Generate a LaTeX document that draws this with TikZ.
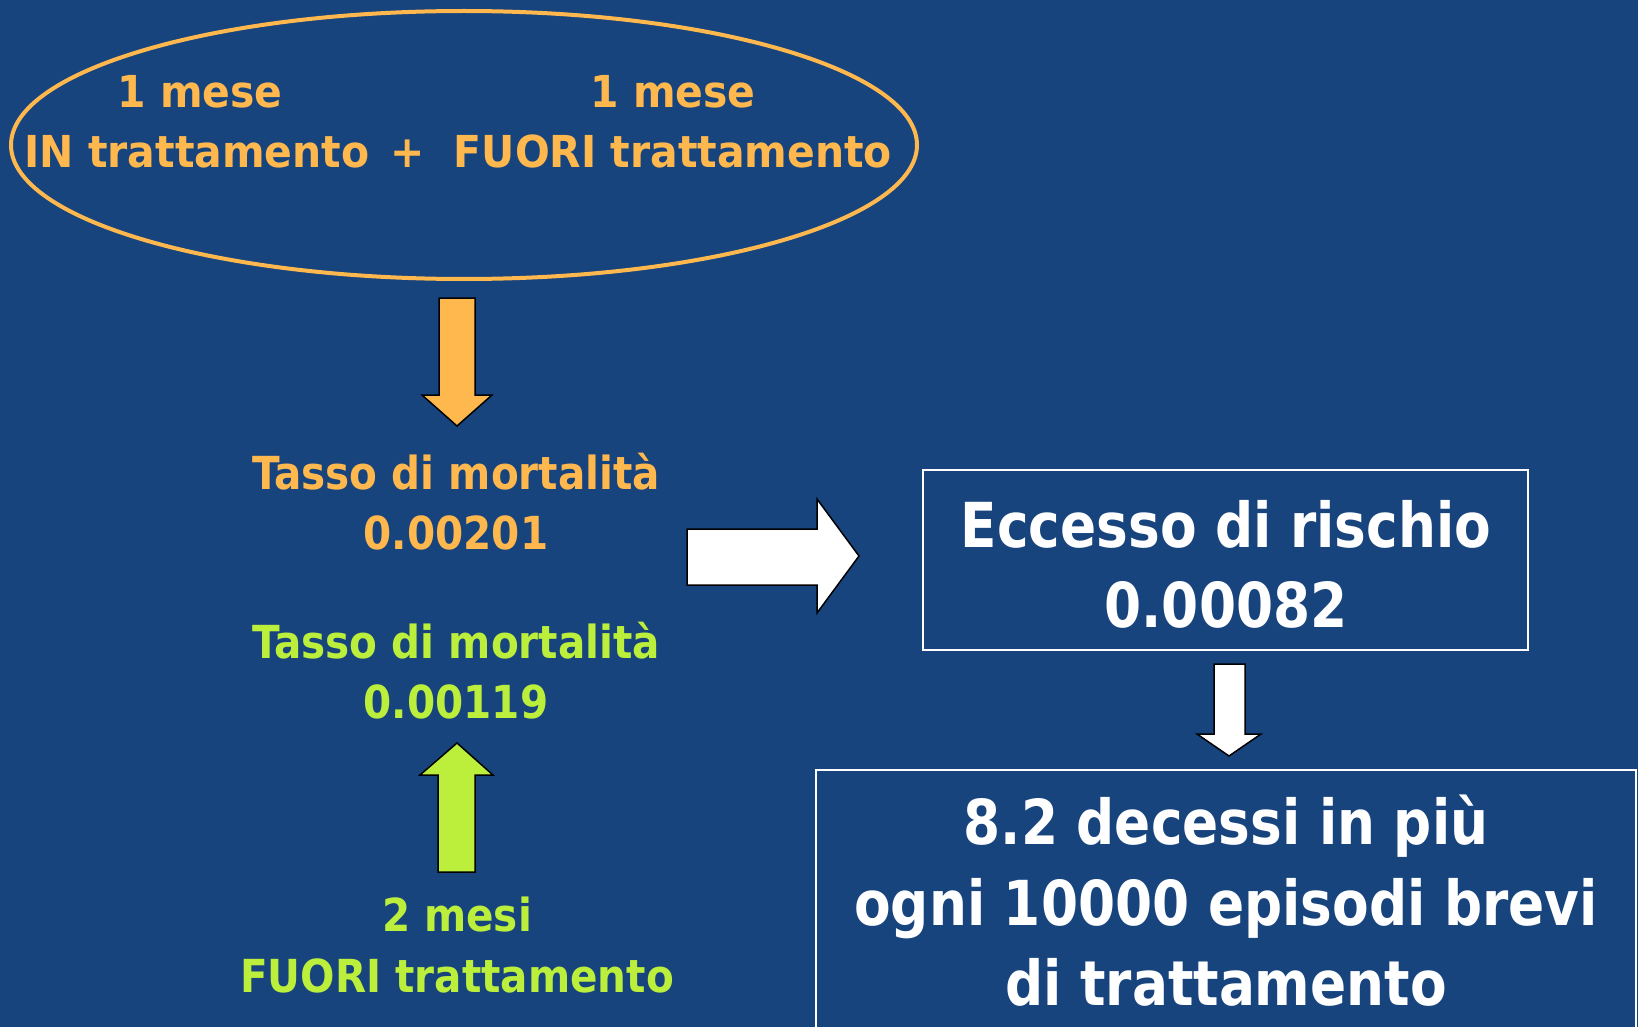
\documentclass[tikz,border=0pt]{standalone}
\usepackage{fontspec}
\setmainfont{DejaVu Sans}
\newfontfamily\widefont{DejaVu Sans Bold}[FakeStretch=0.89]
\newfontfamily\ellfont{DejaVu Sans Bold}[FakeStretch=0.93]
\newfontfamily\boxfont{DejaVu Sans Bold}[FakeStretch=0.86]
\definecolor{bg}{HTML}{18447E}
\definecolor{orng}{HTML}{FFB84D}
\definecolor{lime}{HTML}{BBEF3B}
\tikzset{
  txt/.style={inner sep=0pt, anchor=base},
  elltxt/.style={txt, text=orng, font=\ellfont\fontsize{44}{58}\selectfont},
  oratxt/.style={txt, text=orng, font=\widefont\fontsize{45.5}{53}\selectfont},
  grtxt/.style={txt, text=lime, font=\widefont\fontsize{45.5}{53}\selectfont},
  boxtxt/.style={txt, text=white, font=\boxfont\fontsize{62}{80}\selectfont},
  blockarrow/.style={draw=black, line width=1.5pt, line join=miter},
  framebox/.style={draw=white, line width=1.5pt}
}
\begin{document}
\begin{tikzpicture}[x=1pt,y=-1pt]
\useasboundingbox (0,0) rectangle (1638,1027);
\fill[bg] (0,0) rectangle (1638,1027);
\clip (0,0) rectangle (1638,1027);
% ellipse
\draw[orng, line width=4pt] (464,145) ellipse [x radius=453, y radius=134];
\node[elltxt] (l1) at (200,108) {1 mese};
\node[elltxt] (l2) at (197,168) {IN trattamento};
\node[elltxt] (plus) at (408,168) {+};
\node[elltxt] (r1) at (673,108) {1 mese};
\node[elltxt] (r2) at (673,168) {FUORI trattamento};
% orange down arrow
\draw[blockarrow, fill=orng] (439,298) -- (475,298) -- (475,395) -- (492,395) -- (457,426) -- (422,395) -- (439,395) -- cycle;
% mortality rates
\node[oratxt] (t1) at (456,489) {Tasso di mortalità};
\node[oratxt] (v1) at (456,549) {0.00201};
\node[grtxt] (t2) at (456,658) {Tasso di mortalità};
\node[grtxt] (v2) at (456,718) {0.00119};
% green up arrow
\draw[blockarrow, fill=lime] (438,872) -- (475,872) -- (475,775) -- (493,775) -- (457,743) -- (420,775) -- (438,775) -- cycle;
\node[grtxt] (m1) at (457,931) {2 mesi};
\node[grtxt] (m2) at (457,992) {FUORI trattamento};
% white right arrow
\draw[blockarrow, fill=white] (687,529) -- (817,529) -- (817,499) -- (859,556) -- (817,613) -- (817,585) -- (687,585) -- cycle;
% box 1
\draw[framebox] (923,470) rectangle (1528,650);
\node[boxtxt] (e1) at (1226,547) {Eccesso di rischio};
\node[boxtxt] (e2) at (1226,627) {0.00082};
% white down arrow
\draw[blockarrow, fill=white] (1214,664) -- (1245,664) -- (1245,734) -- (1261,734) -- (1229,756) -- (1197,734) -- (1214,734) -- cycle;
% box 2
\draw[framebox] (816,770) rectangle (1636,1060);
\node[boxtxt] (d1) at (1226,844) {8.2 decessi in più};
\node[boxtxt] (d2) at (1226,925) {ogni 10000 episodi brevi};
\node[boxtxt] (d3) at (1226,1005) {di trattamento};
\end{tikzpicture}
\end{document}
